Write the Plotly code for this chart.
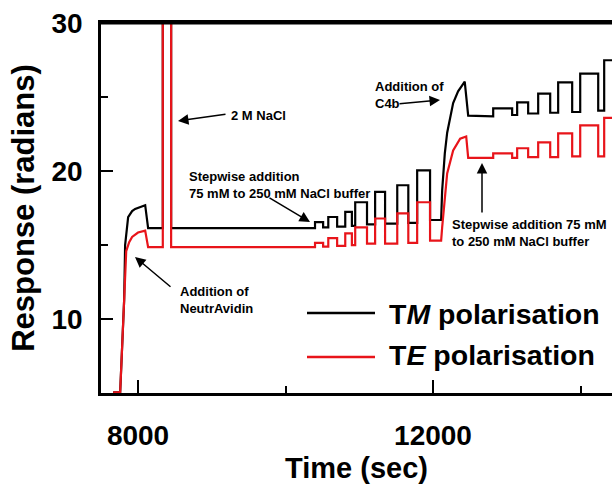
import plotly.graph_objects as go

# ---------------- data ----------------
tm_time = [7663, 7758, 7812, 7825, 7866, 7920, 7961, 8030, 8097, 8137, 8336, 8336, 8449, 8449,
           10400, 10400, 10510, 10510,
           10580, 10580, 10700, 10700,
           10810, 10810, 10900, 10900,
           10945, 10945, 11105, 11105,
           11215, 11215, 11350, 11350,
           11515, 11515, 11665, 11665,
           11785, 11785, 11960, 11960,
           12110, 12124, 12160, 12192, 12273, 12340, 12409, 12430, 12477,
           12816, 12816, 13073, 13073,
           13141, 13141, 13290, 13290,
           13426, 13426, 13589, 13589,
           13697, 13697, 13887, 13887,
           13996, 13996, 14240, 14240,
           14321, 14321, 14500]
tm_resp = [5.05, 5.05, 11.3, 15.0, 16.9, 17.3, 17.45, 17.6, 17.7, 16.15, 16.15, 40, 40, 16.15,
           16.15, 16.55, 16.55, 16.2,
           16.2, 16.9, 16.9, 16.25,
           16.25, 17.25, 17.25, 16.3,
           16.3, 17.9, 17.9, 16.4,
           16.4, 18.6, 18.6, 16.45,
           16.45, 19.05, 19.05, 16.5,
           16.5, 20.05, 20.05, 16.7,
           16.7, 18.7, 21.2, 22.6, 24.6, 25.4, 25.95, 26.05, 23.75,
           23.7, 24.25, 24.25, 23.8,
           23.8, 24.65, 24.65, 23.9,
           23.9, 25.25, 25.25, 23.95,
           23.95, 26.0, 26.0, 24.0,
           24.0, 26.6, 26.6, 24.1,
           24.1, 27.5, 27.5]

te_time = [7663, 7758, 7812, 7840, 7880, 7920, 8000, 8097, 8137, 8336, 8336, 8449, 8449,
           10400, 10400, 10510, 10510,
           10580, 10580, 10700, 10700,
           10810, 10810, 10900, 10900,
           10945, 10945, 11105, 11105,
           11215, 11215, 11350, 11350,
           11515, 11515, 11665, 11665,
           11785, 11785, 11960, 11960,
           12110, 12124, 12192, 12273, 12368, 12450, 12477,
           12816, 12816, 13073, 13073,
           13141, 13141, 13290, 13290,
           13426, 13426, 13589, 13589,
           13697, 13697, 13887, 13887,
           13996, 13996, 14240, 14240,
           14321, 14321, 14500]
te_resp = [5.05, 5.05, 11.3, 14.6, 15.2, 15.55, 15.85, 15.98, 14.86, 14.86, 40, 40, 14.86,
           14.86, 15.15, 15.15, 14.9,
           14.9, 15.47, 15.47, 14.95,
           14.95, 15.8, 15.8, 15.0,
           15.0, 16.2, 16.2, 15.1,
           15.1, 16.8, 16.8, 15.1,
           15.1, 17.15, 17.15, 15.15,
           15.15, 17.9, 17.9, 15.3,
           15.3, 16.2, 19.85, 21.4, 22.2, 22.35, 20.9,
           20.9, 21.2, 21.2, 20.9,
           20.9, 21.55, 21.55, 20.95,
           20.95, 21.95, 21.95, 20.95,
           20.95, 22.55, 22.55, 21.0,
           21.0, 23.1, 23.1, 21.0,
           21.0, 23.6, 23.6]

series_names = ["T<i>M</i> polarisation", "T<i>E</i> polarisation"]
series_colors = ["black", "#e8141a"]

x_range = [7498, 14427]
y_range = [5, 30.02]

# ---------------- layout helpers (page pixel -> paper) ----------------
W, H = 612, 484
L, R, T, B = 101, 612, 23, 393


def px(x):
    return (x - L) / (R - L)


def py(y):
    return (B - y) / (B - T)


FONT = "Liberation Sans, Arial, sans-serif"

fig = go.Figure()
fig.add_trace(go.Scatter(x=tm_time, y=tm_resp, mode="lines", name=series_names[0],
                         line=dict(color=series_colors[0], width=2.2)))
fig.add_trace(go.Scatter(x=te_time, y=te_resp, mode="lines", name=series_names[1],
                         line=dict(color=series_colors[1], width=2.2)))

ann = []
txt_font = dict(family=FONT, size=13, color="black", weight=700)


def add_text(text, x, y):
    ann.append(dict(text=text, x=px(x), y=py(y), xref="paper", yref="paper",
                    xanchor="left", yanchor="middle", align="left",
                    showarrow=False, font=txt_font))


def add_arrow(tx, ty, hx, hy):
    ann.append(dict(text="", x=px(hx), y=py(hy), xref="paper", yref="paper",
                    ax=tx - hx, ay=ty - hy, showarrow=True, arrowhead=2,
                    arrowsize=1.4, arrowwidth=1.5, arrowcolor="black"))


add_text("2 M NaCl", 229, 115)
add_arrow(227, 114, 178, 121)
add_text("Stepwise addition<br>75 mM to 250 mM NaCl buffer", 187, 185)
add_arrow(268, 197, 310, 222)
add_text("Addition of<br>NeutrAvidin", 178, 300)
add_arrow(172, 288, 135, 257)
add_text("Addition of<br>C4b", 373, 95)
add_arrow(398, 104, 440, 100)
add_text("Stepwise addition 75 mM<br>to 250 mM NaCl buffer", 450, 233)
add_arrow(482, 214, 482, 163)

# frame top edge (the reference box is open on the cropped right side)
shapes = [dict(type="line", xref="paper", yref="paper", x0=0, x1=1, y0=1, y1=1,
               line=dict(color="black", width=3), layer="above")]

# manual legend
leg_rows = [(313, 314), (357, 355)]
for (ly, ty), name, col in zip(leg_rows, series_names, series_colors):
    shapes.append(dict(type="line", xref="paper", yref="paper",
                       x0=px(307), x1=px(375), y0=py(ly), y1=py(ly),
                       line=dict(color=col, width=2.5)))
    ann.append(dict(text=name, x=px(387), y=py(ty), xref="paper", yref="paper",
                    xanchor="left", yanchor="middle", showarrow=False,
                    font=dict(family=FONT, size=28.5, color="black", weight=700)))

axis_font = dict(family=FONT, size=28, color="black", weight=700)
fig.update_layout(
    width=W, height=H,
    margin=dict(l=L, r=W - R, t=T, b=H - B, autoexpand=False),
    plot_bgcolor="white", paper_bgcolor="white",
    showlegend=False,
    annotations=ann, shapes=shapes,
    xaxis=dict(range=x_range, tick0=8000, dtick=4000, tickformat="d",
               ticks="inside", ticklen=13,
               tickwidth=2, tickcolor="black", showline=True, linewidth=2.5,
               linecolor="black", mirror=True, showgrid=False, zeroline=False,
               tickfont=axis_font, ticklabelstandoff=16, automargin=False,
               minor=dict(tick0=8000, dtick=2000, ticks="inside", ticklen=7,
                          tickwidth=2, tickcolor="black", showgrid=False),
               title=dict(text="Time (sec)", font=dict(family=FONT, size=29, color="black", weight=700),
                          standoff=8)),
    yaxis=dict(range=y_range, tick0=0, dtick=10, ticks="inside", ticklen=12,
               tickwidth=2, tickcolor="black", showline=True, linewidth=2.5,
               linecolor="black", mirror=False, showgrid=False, zeroline=False,
               tickfont=axis_font, ticklabelstandoff=10, automargin=False,
               minor=dict(tick0=0, dtick=5, ticks="inside", ticklen=7,
                          tickwidth=2, tickcolor="black", showgrid=False),
               title=dict(text="Response (radians)",
                          font=dict(family=FONT, size=31, color="black", weight=700),
                          standoff=8)),
)

fig.write_html("out.html", config={"displayModeBar": False},
               post_script="document.body.style.margin='0';document.body.style.overflow='hidden';")
